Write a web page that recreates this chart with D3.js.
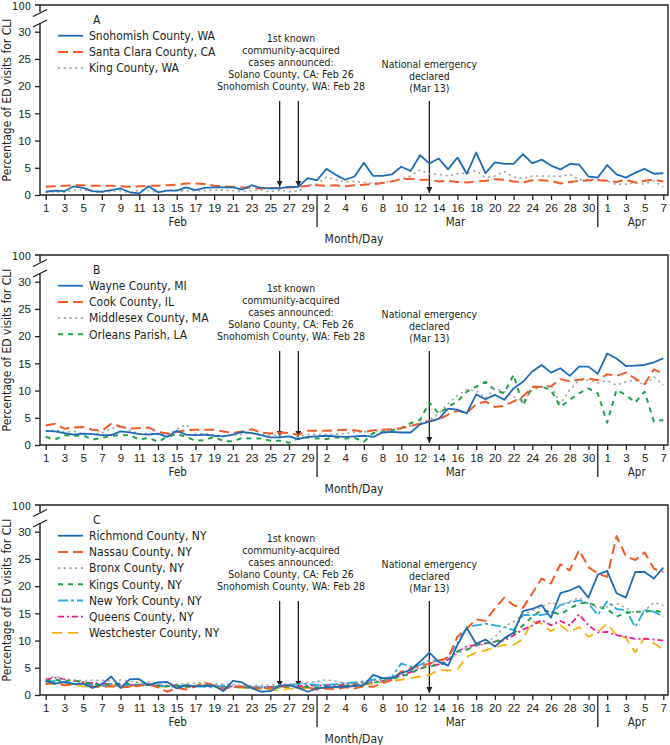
<!DOCTYPE html>
<html><head><meta charset="utf-8">
<script src="https://cdn.jsdelivr.net/npm/d3@7"></script>
<style>
html,body{margin:0;padding:0;background:#fff;}
svg{display:block;font-family:'Liberation Sans Narrow','Arial Narrow','DejaVu Sans Condensed',sans-serif;}
</style></head>
<body><svg id="c" width="670" height="745"></svg>
<script>
// ---------- categories ----------
const febDays = d3.range(1, 30).map(d => "Feb " + d);
const marDays = d3.range(1, 32).map(d => "Mar " + d);
const aprDays = d3.range(1, 8).map(d => "Apr " + d);
const dates = febDays.concat(marDays, aprDays);
const tickDates = febDays.filter((d, i) => i % 2 === 0)
  .concat(marDays.filter((d, i) => i % 2 === 1), aprDays.filter((d, i) => i % 2 === 0));
const yTicks = [0, 5, 10, 15, 20, 25, 30];
const months = [["Feb", "Feb 15"], ["Mar", "Mar 16"], ["Apr", "Apr 4"]];

// ---------- panel A ----------
const snohomish = [0.6,0.8,0.7,1.6,1.3,0.7,0.6,0.9,1.2,0.5,0.3,1.6,0.5,0.8,0.8,1.4,0.9,1.3,1.4,1.4,1.4,1.0,1.8,1.3,1.2,1.2,1.5,1.5,3.1,
  2.7,4.8,3.7,2.8,3.4,5.9,3.5,3.5,3.8,5.2,4.4,7.3,5.8,6.7,4.7,6.9,3.9,7.8,4.0,6.0,5.7,5.7,7.5,5.8,6.5,5.4,4.7,5.7,5.6,3.4,3.2,
  5.5,3.8,3.2,4.1,4.8,3.9,4.0];
const santaClara = [1.5,1.6,1.7,1.8,1.8,1.7,1.7,1.7,1.6,1.5,1.6,1.7,1.7,1.8,1.9,2.1,2.1,2.0,1.7,1.6,1.5,1.4,1.3,1.2,1.3,1.3,1.4,1.5,1.7,
  1.8,1.7,1.8,1.6,1.8,1.9,2.0,2.2,2.5,2.9,3.0,2.8,2.8,2.5,2.6,2.4,2.3,2.5,2.6,2.9,2.8,2.5,2.3,2.7,2.7,2.6,2.1,2.4,2.6,2.7,2.7,
  2.6,2.4,2.8,2.3,2.6,2.8,2.5];
const king = [0.5,0.6,0.5,0.9,1.0,0.6,0.5,0.7,0.8,0.4,0.9,0.8,0.6,0.9,0.9,0.7,0.8,0.8,0.9,0.9,0.8,0.7,0.8,0.9,0.6,0.9,0.6,0.7,1.8,
  2.0,3.3,2.8,2.4,2.5,2.3,2.2,2.3,2.6,2.9,3.5,4.6,3.8,3.8,3.5,3.9,4.0,4.5,3.2,3.5,4.3,3.3,3.0,3.5,3.5,3.5,3.4,3.8,2.8,2.9,2.8,
  2.6,1.9,2.0,2.3,2.0,2.6,1.5];

// ---------- panel B ----------
const wayne = [2.6,2.5,2.2,1.9,2.1,2.0,1.8,1.8,2.5,2.3,2.0,1.9,2.1,1.5,2.6,1.9,1.8,1.9,1.7,1.6,1.9,2.4,2.2,1.8,1.4,1.4,1.6,1.1,1.5,
  1.6,1.7,1.6,1.5,1.6,1.7,1.5,2.3,2.4,2.3,2.3,3.8,4.3,4.8,6.7,6.5,5.8,9.3,8.4,9.2,8.3,10.4,11.6,13.5,14.7,13.3,14.1,12.7,14.4,14.4,13.1,
  16.8,15.9,14.5,14.6,14.7,15.2,15.9];
const cook = [3.6,3.9,3.0,3.2,3.3,2.8,2.6,3.9,3.4,3.0,3.1,3.2,2.4,2.1,2.4,2.7,2.8,2.8,2.8,2.5,2.2,2.5,2.9,2.3,2.1,2.3,2.2,1.9,2.6,
  2.6,2.6,2.7,2.8,2.7,2.4,2.7,2.8,2.9,3.1,3.5,3.9,4.4,4.7,5.6,6.3,5.9,7.5,8.0,7.0,7.2,8.0,8.9,10.6,10.7,10.8,12.1,11.7,12.0,12.2,11.9,
  13.0,12.7,13.3,12.2,11.2,13.9,13.1];
const middlesex = [2.5,2.8,2.4,2.5,2.1,2.0,2.2,3.0,3.4,2.7,2.0,2.2,1.9,1.8,2.9,3.8,2.0,2.1,1.8,1.7,1.8,2.0,2.3,2.0,1.8,1.8,1.5,1.5,1.9,
  1.9,1.9,2.0,2.1,2.4,2.4,2.6,2.6,2.5,3.0,3.5,4.0,4.6,5.8,7.6,9.1,10.2,10.0,8.6,10.4,9.8,8.9,8.0,10.1,10.7,11.0,7.6,10.1,11.9,11.9,11.4,
  11.8,11.0,11.6,11.9,11.0,12.5,11.0];
const orleans = [1.5,1.0,1.8,1.7,1.8,1.0,1.3,1.7,1.8,1.8,1.0,1.3,0.6,1.5,2.0,1.5,0.8,0.9,1.5,0.7,0.7,1.3,1.2,1.2,0.8,0.8,0.4,1.2,1.4,
  1.2,1.1,1.4,1.2,1.3,0.6,2.2,2.4,2.7,3.1,4.0,4.6,7.8,5.8,7.0,8.0,9.8,10.7,11.6,10.1,9.5,12.9,7.3,10.7,10.7,10.1,7.0,8.3,9.5,10.4,9.5,
  4.1,10.1,9.2,7.8,9.8,4.3,4.6];

// ---------- panel C ----------
const richmond = [2.6,2.1,2.4,2.0,2.1,1.3,2.0,3.4,1.3,2.9,2.9,1.8,2.3,2.4,1.2,1.8,1.6,1.7,1.7,0.7,2.6,2.3,1.3,0.6,0.7,1.7,1.8,1.3,0.6,
  1.2,1.4,1.5,1.5,1.65,1.8,3.7,3.1,3.1,4.0,4.6,6.1,7.8,6.1,5.4,9.2,12.3,9.4,10.2,8.9,10.4,11.5,15.4,15.8,16.5,14.2,18.7,19.2,20.0,17.9,22.1,
  22.8,18.7,17.9,22.6,22.6,21.4,23.4];
const nassau = [2.0,2.2,1.8,1.9,2.1,1.5,1.5,1.6,1.4,1.5,1.7,1.9,1.4,0.6,1.3,1.0,1.6,2.3,1.7,1.1,1.5,1.5,1.4,1.2,1.3,1.5,1.6,1.4,1.4,
  1.0,1.2,1.0,1.4,1.2,1.6,1.5,2.2,2.8,4.3,4.9,5.3,5.8,6.3,6.8,10.7,12.2,13.9,13.6,15.9,17.9,16.5,16.0,18.7,21.4,20.5,24.0,22.9,26.6,23.5,22.3,
  21.7,29.2,25.5,24.8,26.2,23.2,22.6];
const bronx = [3.0,3.4,2.9,2.8,2.6,2.7,2.7,2.6,2.8,2.5,2.3,2.4,2.2,2.2,2.0,2.1,2.2,2.3,2.0,2.0,1.9,1.8,1.7,1.8,1.8,1.9,2.0,2.0,2.3,
  2.5,2.8,2.5,2.2,2.0,2.2,2.5,2.6,3.0,4.0,4.5,5.0,5.8,6.3,6.8,7.6,8.6,8.9,9.5,10.7,12.5,13.5,14.8,15.5,16.2,17.0,16.5,17.2,17.9,16.8,16.0,
  16.2,16.8,16.0,15.0,15.5,17.0,16.4];
const kings = [2.5,2.8,2.6,2.7,2.3,2.0,1.9,2.0,2.1,2.0,1.8,1.9,1.7,1.6,1.8,1.5,1.7,1.8,1.6,1.4,1.5,1.4,1.3,1.3,1.2,1.4,1.5,1.4,1.5,
  1.4,1.6,1.5,1.7,1.8,2.0,2.3,2.6,3.0,3.4,4.0,4.9,5.3,5.5,6.1,8.0,8.3,9.2,9.5,9.8,10.4,11.3,12.8,14.4,15.6,15.3,14.8,15.9,16.8,17.0,16.2,
  15.8,14.4,15.1,15.3,15.3,15.5,15.2];
const newYork = [2.4,2.6,2.3,2.1,2.0,1.8,1.6,2.0,1.5,1.8,2.0,1.9,1.7,1.6,1.5,1.8,1.6,1.5,1.4,1.7,1.5,1.6,1.5,1.4,1.5,1.6,1.8,2.0,2.1,
  1.8,1.9,2.0,2.2,2.3,2.5,2.8,3.0,3.3,5.8,5.2,5.5,6.4,6.2,7.0,9.5,12.5,12.8,13.1,12.8,12.5,11.9,14.7,14.7,14.7,15.0,16.5,17.0,17.4,16.8,14.7,
  17.2,15.8,15.6,12.5,15.6,15.3,14.4];
const queens = [2.8,3.2,2.9,2.6,2.4,2.2,2.1,2.0,1.9,1.8,1.9,2.0,1.8,1.7,1.8,1.6,1.5,1.7,1.6,1.5,1.6,1.5,1.4,1.4,1.5,1.6,1.7,1.6,1.8,
  1.7,1.8,1.7,1.9,2.0,2.2,2.4,2.6,3.0,3.6,4.2,4.8,5.5,5.6,6.5,8.0,8.9,9.2,9.5,9.8,10.0,11.0,12.0,12.8,13.8,12.8,13.6,12.8,14.8,12.8,11.5,
  11.6,11.0,10.7,10.3,10.3,10.2,10.0];
const westchester = [2.1,2.0,1.9,1.8,1.6,1.5,1.7,1.9,1.5,1.6,1.8,2.1,1.6,1.5,1.6,1.4,1.7,1.9,1.8,1.4,1.5,1.3,1.2,1.1,1.0,0.8,1.2,1.0,1.3,
  1.2,1.3,1.4,1.5,1.7,1.9,2.1,2.4,2.6,2.8,3.1,3.4,3.7,4.6,4.5,4.7,7.0,7.8,8.2,8.8,9.2,9.2,10.3,13.5,13.1,11.7,12.8,11.5,12.5,10.7,11.6,
  13.1,11.0,10.5,7.8,10.5,9.5,8.3];

// ---------- styles ----------
const ST = {
  blue:   {color:"#1f6cb5", dash:null, w:1.8},
  orange: {color:"#f15a29", dash:"10,5", w:2},
  grey:   {color:"#a3a3a3", dash:"2.2,3.5", w:1.6},
  green:  {color:"#1fa14a", dash:"5,5", w:2},
  ltblue: {color:"#27aae1", dash:"10,3,3,3", w:1.8},
  magenta:{color:"#ea1a8c", dash:"6,3,2,3", w:1.8},
  yellow: {color:"#f4b214", dash:"10,6", w:1.8}
};

const panels = [
  {label:"A", series:[["Snohomish County, WA", snohomish, "blue"], ["Santa Clara County, CA", santaClara, "orange"], ["King County, WA", king, "grey"]]},
  {label:"B", series:[["Wayne County, MI", wayne, "blue"], ["Cook County, IL", cook, "orange"], ["Middlesex County, MA", middlesex, "grey"], ["Orleans Parish, LA", orleans, "green"]]},
  {label:"C", series:[["Richmond County, NY", richmond, "blue"], ["Nassau County, NY", nassau, "orange"], ["Bronx County, NY", bronx, "grey"], ["Kings County, NY", kings, "green"], ["New York County, NY", newYork, "ltblue"], ["Queens County, NY", queens, "magenta"], ["Westchester County, NY", westchester, "yellow"]]}
];

const annot1 = ["1st known", "community-acquired", "cases announced:", "Solano County, CA: Feb 26", "Snohomish County, WA: Feb 28"];
const annot2 = ["National emergency", "declared", "(Mar 13)"];

// ---------- drawing ----------
const svg = d3.select("#c");
const ink = "#231f20";
const AX_L = 40, AX_R = 668;
const x = d3.scalePoint().domain(dates).range([45.7, 663.3]);

svg.append("defs").append("marker")
  .attr("id", "arr").attr("viewBox", "0 0 10 10").attr("refX", 10).attr("refY", 5)
  .attr("markerUnits", "userSpaceOnUse").attr("markerWidth", 6).attr("markerHeight", 7)
  .attr("orient", "auto")
  .append("path").attr("d", "M0,0 L10,5 L0,10 z").attr("fill", ink);

panels.forEach((p, k) => {
  const oy = k * 250;
  const g = svg.append("g");
  const y = d3.scaleLinear().domain([0, 30]).range([oy + 195, oy + 31.7]);

  // frame
  g.append("path").attr("d", `M${AX_L - 5},${oy + 5}H${AX_R}V${oy + 195}H${AX_L}`)
    .attr("fill", "none").attr("stroke", ink).attr("stroke-width", 1.4);
  // broken y axis
  g.append("path").attr("d", `M${AX_L},${oy + 5}V${oy + 12} M${AX_L},${oy + 23}V${oy + 195}`)
    .attr("fill", "none").attr("stroke", ink).attr("stroke-width", 1.4);
  g.append("path").attr("d", `M${AX_L - 7},${oy + 16.5}L${AX_L + 7},${oy + 9.5} M${AX_L - 7},${oy + 27}L${AX_L + 7},${oy + 20}`)
    .attr("fill", "none").attr("stroke", ink).attr("stroke-width", 1.3);
  g.append("text").attr("x", 31).attr("y", oy + 6.5).attr("dy", "0.35em")
    .attr("text-anchor", "end").attr("font-size", 11).attr("fill", ink).text("100");

  // y axis ticks
  const ya = g.append("g").attr("transform", `translate(${AX_L},0)`)
    .call(d3.axisLeft(y).tickValues(yTicks).tickSize(5).tickPadding(4));
  ya.select(".domain").remove();
  ya.selectAll("line").attr("stroke", ink).attr("stroke-width", 1.3);
  ya.selectAll("text").attr("font-size", 11.5).attr("fill", ink).attr("font-family", null);

  // x axis ticks
  const xa = g.append("g").attr("transform", `translate(0,${oy + 195})`)
    .call(d3.axisBottom(x).tickValues(tickDates).tickSize(5).tickPadding(4).tickFormat(d => d.split(" ")[1]));
  xa.select(".domain").remove();
  xa.selectAll("line").attr("stroke", ink).attr("stroke-width", 1.3);
  xa.selectAll("text").attr("font-size", 11.5).attr("fill", ink).attr("font-family", null);

  // month separators
  ["Mar 1", "Mar 31"].forEach(d => {
    g.append("line").attr("x1", x(d)).attr("x2", x(d)).attr("y1", oy + 195).attr("y2", oy + 227)
      .attr("stroke", ink).attr("stroke-width", 1.3);
  });
  months.forEach(([m, c]) => {
    g.append("text").attr("x", x(c) + (m === "Feb" ? 1 : m === "Apr" ? 1.5 : -2)).attr("y", oy + 226)
      .attr("text-anchor", "middle").attr("font-size", 11.5).attr("fill", ink).text(m);
  });
  g.append("text").attr("x", 354).attr("y", oy + 243).attr("text-anchor", "middle")
    .attr("font-size", 12).attr("fill", ink).text("Month/Day");

  // y axis title
  g.append("text").attr("transform", `translate(11,${oy + 100}) rotate(-90)`)
    .attr("text-anchor", "middle").attr("font-size", 12).attr("fill", ink)
    .text("Percentage of ED visits for CLI");

  // annotations
  annot1.forEach((t, i) => {
    g.append("text").attr("x", 291).attr("y", oy + 42 + i * 11.9).attr("text-anchor", "middle")
      .attr("font-size", 10.5).attr("fill", ink).text(t);
  });
  annot2.forEach((t, i) => {
    g.append("text").attr("x", x("Mar 13")).attr("y", oy + 68 + i * 12).attr("text-anchor", "middle")
      .attr("font-size", 10.5).attr("fill", ink).text(t);
  });
  ["Feb 26", "Feb 28"].forEach(d => {
    g.append("line").attr("x1", x(d)).attr("x2", x(d)).attr("y1", oy + 101).attr("y2", y(1.5))
      .attr("stroke", ink).attr("stroke-width", 1.3).attr("marker-end", "url(#arr)");
  });
  g.append("line").attr("x1", x("Mar 13")).attr("x2", x("Mar 13")).attr("y1", oy + 101).attr("y2", oy + 193)
    .attr("stroke", ink).attr("stroke-width", 1.3).attr("marker-end", "url(#arr)");

  // lines
  const line = d3.line().x((d, i) => x(dates[i])).y(d => y(d));
  p.series.slice().reverse().forEach(([name, vals, st]) => {
    const s = ST[st];
    g.append("path").datum(vals).attr("d", line).attr("fill", "none")
      .attr("stroke", s.color).attr("stroke-width", s.w)
      .attr("stroke-dasharray", s.dash).attr("stroke-linejoin", "round");
  });

  // legend
  g.append("text").attr("x", 93).attr("y", oy + 20).attr("dy", "0.35em")
    .attr("font-size", 12).attr("fill", ink).text(p.label);
  p.series.forEach(([name, vals, st], i) => {
    const s = ST[st];
    const ly = oy + 35.7 + i * 16.2;
    g.append("line").attr("x1", st === "yellow" ? 52 : 58).attr("x2", 83).attr("y1", ly).attr("y2", ly)
      .attr("stroke", s.color).attr("stroke-width", s.w).attr("stroke-dasharray", s.dash);
    g.append("text").attr("x", 89).attr("y", ly).attr("dy", "0.35em")
      .attr("font-size", 12).attr("fill", ink).text(name);
  });
});
</script></body></html>
